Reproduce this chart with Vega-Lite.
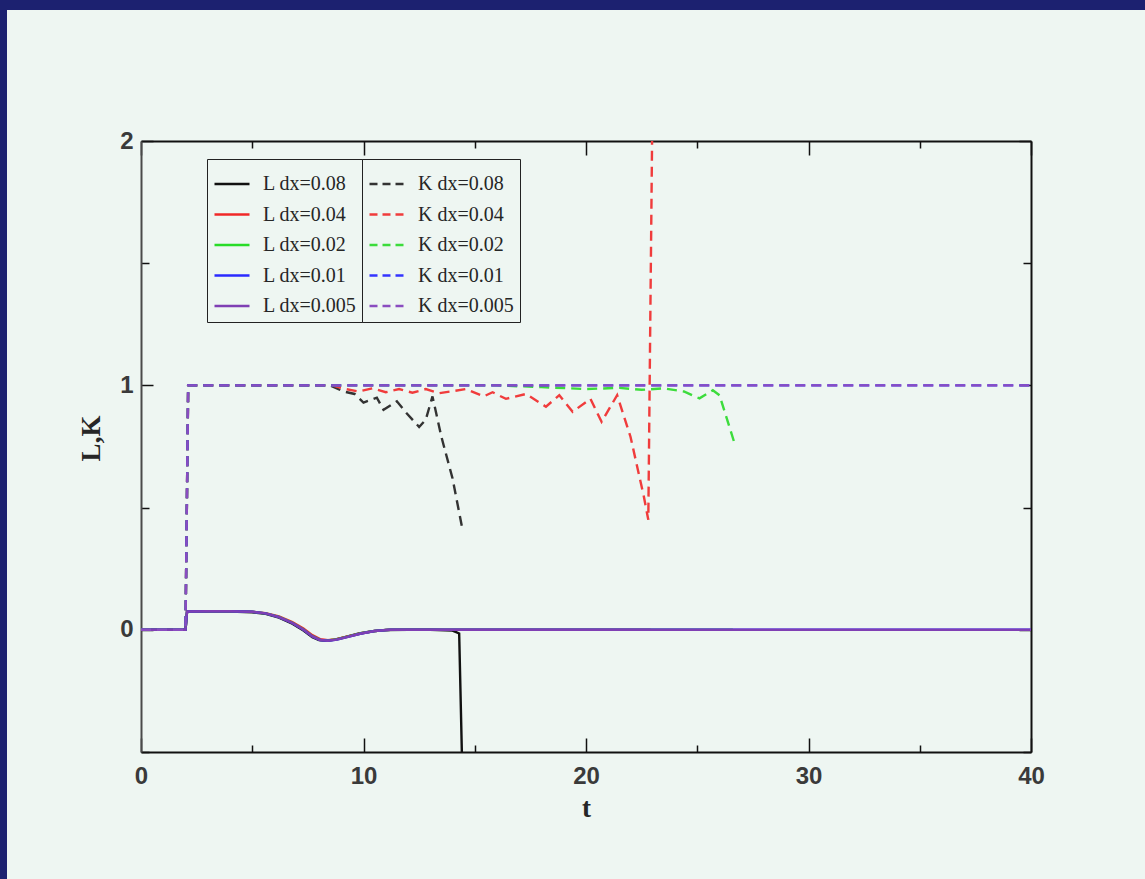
{
  "$schema": "https://vega.github.io/schema/vega-lite/v6.json",
  "width": 1138,
  "height": 869,
  "autosize": "none",
  "padding": {"top": 10, "left": 7, "right": 0, "bottom": 0},
  "background": "#1c2170",
  "config": {
    "view": {"fill": "#eef6f2", "stroke": null},
    "axis": {
      "domainColor": "#111111",
      "domainWidth": 2,
      "tickColor": "#111111",
      "tickWidth": 1.5,
      "grid": false,
      "labelFont": "Liberation Sans",
      "labelFontSize": 24,
      "labelFontWeight": "bold",
      "labelColor": "#3a3a3a",
      "labelFlush": false,
      "labelOverlap": false,
      "labelBound": false,
      "titleFont": "Liberation Serif",
      "titleFontSize": 27,
      "titleFontWeight": "bold",
      "titleColor": "#262626"
    },
    "legend": {
      "orient": "none",
      "title": null,
      "symbolType": "stroke",
      "symbolSize": 1225,
      "symbolStrokeWidth": 2.4,
      "labelFont": "Liberation Serif",
      "labelFontSize": 20,
      "labelColor": "#262626",
      "labelOffset": 12,
      "labelLimit": 300,
      "rowPadding": 1.5,
      "padding": 6,
      "strokeColor": "#222222",
      "fillColor": "#eef6f2"
    }
  },
  "datasets": {
    "L": [
      {"t": 0, "v": 0, "s": "L dx=0.08"},
      {"t": 2.0, "v": 0, "s": "L dx=0.08"},
      {"t": 2.07, "v": 0.074, "s": "L dx=0.08"},
      {"t": 3, "v": 0.075, "s": "L dx=0.08"},
      {"t": 4, "v": 0.075, "s": "L dx=0.08"},
      {"t": 5, "v": 0.072, "s": "L dx=0.08"},
      {"t": 5.6, "v": 0.065, "s": "L dx=0.08"},
      {"t": 6.2, "v": 0.05, "s": "L dx=0.08"},
      {"t": 6.8, "v": 0.025, "s": "L dx=0.08"},
      {"t": 7.3, "v": -0.003, "s": "L dx=0.08"},
      {"t": 7.7, "v": -0.03, "s": "L dx=0.08"},
      {"t": 8.0, "v": -0.042, "s": "L dx=0.08"},
      {"t": 8.3, "v": -0.045, "s": "L dx=0.08"},
      {"t": 8.7, "v": -0.04, "s": "L dx=0.08"},
      {"t": 9.2, "v": -0.029, "s": "L dx=0.08"},
      {"t": 9.8, "v": -0.015, "s": "L dx=0.08"},
      {"t": 10.4, "v": -0.006, "s": "L dx=0.08"},
      {"t": 11, "v": -0.001, "s": "L dx=0.08"},
      {"t": 12, "v": 0, "s": "L dx=0.08"},
      {"t": 13, "v": 0, "s": "L dx=0.08"},
      {"t": 14.0, "v": -0.003, "s": "L dx=0.08"},
      {"t": 14.3, "v": -0.015, "s": "L dx=0.08"},
      {"t": 14.42, "v": -1.0, "s": "L dx=0.08"},

      {"t": 0, "v": 0, "s": "L dx=0.04"},
      {"t": 2.0, "v": 0, "s": "L dx=0.04"},
      {"t": 2.07, "v": 0.075, "s": "L dx=0.04"},
      {"t": 3, "v": 0.076, "s": "L dx=0.04"},
      {"t": 4, "v": 0.076, "s": "L dx=0.04"},
      {"t": 5, "v": 0.074, "s": "L dx=0.04"},
      {"t": 5.6, "v": 0.068, "s": "L dx=0.04"},
      {"t": 6.2, "v": 0.055, "s": "L dx=0.04"},
      {"t": 6.8, "v": 0.032, "s": "L dx=0.04"},
      {"t": 7.3, "v": 0.005, "s": "L dx=0.04"},
      {"t": 7.7, "v": -0.022, "s": "L dx=0.04"},
      {"t": 8.05, "v": -0.038, "s": "L dx=0.04"},
      {"t": 8.4, "v": -0.043, "s": "L dx=0.04"},
      {"t": 8.8, "v": -0.038, "s": "L dx=0.04"},
      {"t": 9.3, "v": -0.027, "s": "L dx=0.04"},
      {"t": 9.9, "v": -0.014, "s": "L dx=0.04"},
      {"t": 10.5, "v": -0.005, "s": "L dx=0.04"},
      {"t": 11.2, "v": 0, "s": "L dx=0.04"},
      {"t": 22.9, "v": 0, "s": "L dx=0.04"},

      {"t": 0, "v": 0, "s": "L dx=0.02"},
      {"t": 2.0, "v": 0, "s": "L dx=0.02"},
      {"t": 2.07, "v": 0.075, "s": "L dx=0.02"},
      {"t": 3, "v": 0.076, "s": "L dx=0.02"},
      {"t": 4, "v": 0.076, "s": "L dx=0.02"},
      {"t": 5, "v": 0.074, "s": "L dx=0.02"},
      {"t": 5.6, "v": 0.067, "s": "L dx=0.02"},
      {"t": 6.2, "v": 0.053, "s": "L dx=0.02"},
      {"t": 6.8, "v": 0.029, "s": "L dx=0.02"},
      {"t": 7.3, "v": 0.001, "s": "L dx=0.02"},
      {"t": 7.7, "v": -0.026, "s": "L dx=0.02"},
      {"t": 8.05, "v": -0.041, "s": "L dx=0.02"},
      {"t": 8.4, "v": -0.044, "s": "L dx=0.02"},
      {"t": 8.8, "v": -0.039, "s": "L dx=0.02"},
      {"t": 9.3, "v": -0.028, "s": "L dx=0.02"},
      {"t": 9.9, "v": -0.014, "s": "L dx=0.02"},
      {"t": 10.5, "v": -0.005, "s": "L dx=0.02"},
      {"t": 11.2, "v": 0, "s": "L dx=0.02"},
      {"t": 26.6, "v": 0, "s": "L dx=0.02"},

      {"t": 0, "v": 0, "s": "L dx=0.01"},
      {"t": 2.0, "v": 0, "s": "L dx=0.01"},
      {"t": 2.07, "v": 0.075, "s": "L dx=0.01"},
      {"t": 3, "v": 0.076, "s": "L dx=0.01"},
      {"t": 4, "v": 0.076, "s": "L dx=0.01"},
      {"t": 5, "v": 0.074, "s": "L dx=0.01"},
      {"t": 5.6, "v": 0.067, "s": "L dx=0.01"},
      {"t": 6.2, "v": 0.052, "s": "L dx=0.01"},
      {"t": 6.8, "v": 0.028, "s": "L dx=0.01"},
      {"t": 7.3, "v": 0.0, "s": "L dx=0.01"},
      {"t": 7.7, "v": -0.027, "s": "L dx=0.01"},
      {"t": 8.05, "v": -0.042, "s": "L dx=0.01"},
      {"t": 8.4, "v": -0.045, "s": "L dx=0.01"},
      {"t": 8.8, "v": -0.04, "s": "L dx=0.01"},
      {"t": 9.3, "v": -0.029, "s": "L dx=0.01"},
      {"t": 9.9, "v": -0.015, "s": "L dx=0.01"},
      {"t": 10.5, "v": -0.005, "s": "L dx=0.01"},
      {"t": 11.2, "v": 0, "s": "L dx=0.01"},
      {"t": 40, "v": 0, "s": "L dx=0.01"},

      {"t": 0, "v": 0, "s": "L dx=0.005"},
      {"t": 2.0, "v": 0, "s": "L dx=0.005"},
      {"t": 2.07, "v": 0.075, "s": "L dx=0.005"},
      {"t": 3, "v": 0.076, "s": "L dx=0.005"},
      {"t": 4, "v": 0.076, "s": "L dx=0.005"},
      {"t": 5, "v": 0.074, "s": "L dx=0.005"},
      {"t": 5.6, "v": 0.067, "s": "L dx=0.005"},
      {"t": 6.2, "v": 0.052, "s": "L dx=0.005"},
      {"t": 6.8, "v": 0.028, "s": "L dx=0.005"},
      {"t": 7.3, "v": 0.0, "s": "L dx=0.005"},
      {"t": 7.7, "v": -0.027, "s": "L dx=0.005"},
      {"t": 8.05, "v": -0.042, "s": "L dx=0.005"},
      {"t": 8.4, "v": -0.045, "s": "L dx=0.005"},
      {"t": 8.8, "v": -0.04, "s": "L dx=0.005"},
      {"t": 9.3, "v": -0.029, "s": "L dx=0.005"},
      {"t": 9.9, "v": -0.015, "s": "L dx=0.005"},
      {"t": 10.5, "v": -0.005, "s": "L dx=0.005"},
      {"t": 11.2, "v": 0, "s": "L dx=0.005"},
      {"t": 40, "v": 0, "s": "L dx=0.005"}
    ],
    "K": [
      {"t": 0, "v": 0, "s": "K dx=0.08"},
      {"t": 2.0, "v": 0, "s": "K dx=0.08"},
      {"t": 2.12, "v": 1.0, "s": "K dx=0.08"},
      {"t": 8.5, "v": 1.0, "s": "K dx=0.08"},
      {"t": 9.1, "v": 0.975, "s": "K dx=0.08"},
      {"t": 9.6, "v": 0.965, "s": "K dx=0.08"},
      {"t": 10.0, "v": 0.93, "s": "K dx=0.08"},
      {"t": 10.6, "v": 0.95, "s": "K dx=0.08"},
      {"t": 10.9, "v": 0.9, "s": "K dx=0.08"},
      {"t": 11.5, "v": 0.935, "s": "K dx=0.08"},
      {"t": 11.9, "v": 0.89, "s": "K dx=0.08"},
      {"t": 12.5, "v": 0.83, "s": "K dx=0.08"},
      {"t": 12.8, "v": 0.86, "s": "K dx=0.08"},
      {"t": 13.1, "v": 0.955, "s": "K dx=0.08"},
      {"t": 13.5, "v": 0.79, "s": "K dx=0.08"},
      {"t": 14.0, "v": 0.62, "s": "K dx=0.08"},
      {"t": 14.45, "v": 0.41, "s": "K dx=0.08"},

      {"t": 0, "v": 0, "s": "K dx=0.04"},
      {"t": 2.0, "v": 0, "s": "K dx=0.04"},
      {"t": 2.12, "v": 1.0, "s": "K dx=0.04"},
      {"t": 8.6, "v": 1.0, "s": "K dx=0.04"},
      {"t": 9.2, "v": 0.985, "s": "K dx=0.04"},
      {"t": 9.8, "v": 0.975, "s": "K dx=0.04"},
      {"t": 10.4, "v": 0.988, "s": "K dx=0.04"},
      {"t": 11.0, "v": 0.972, "s": "K dx=0.04"},
      {"t": 11.6, "v": 0.985, "s": "K dx=0.04"},
      {"t": 12.2, "v": 0.97, "s": "K dx=0.04"},
      {"t": 12.8, "v": 0.985, "s": "K dx=0.04"},
      {"t": 13.4, "v": 0.968, "s": "K dx=0.04"},
      {"t": 13.9, "v": 0.975, "s": "K dx=0.04"},
      {"t": 14.6, "v": 0.985, "s": "K dx=0.04"},
      {"t": 15.4, "v": 0.955, "s": "K dx=0.04"},
      {"t": 15.8, "v": 0.972, "s": "K dx=0.04"},
      {"t": 16.4, "v": 0.945, "s": "K dx=0.04"},
      {"t": 17.3, "v": 0.965, "s": "K dx=0.04"},
      {"t": 18.2, "v": 0.913, "s": "K dx=0.04"},
      {"t": 18.8, "v": 0.96, "s": "K dx=0.04"},
      {"t": 19.4, "v": 0.892, "s": "K dx=0.04"},
      {"t": 20.2, "v": 0.945, "s": "K dx=0.04"},
      {"t": 20.7, "v": 0.851, "s": "K dx=0.04"},
      {"t": 21.4, "v": 0.96, "s": "K dx=0.04"},
      {"t": 22.0, "v": 0.79, "s": "K dx=0.04"},
      {"t": 22.6, "v": 0.545, "s": "K dx=0.04"},
      {"t": 22.8, "v": 0.45, "s": "K dx=0.04"},
      {"t": 22.97, "v": 3.0, "s": "K dx=0.04"},

      {"t": 0, "v": 0, "s": "K dx=0.02"},
      {"t": 2.0, "v": 0, "s": "K dx=0.02"},
      {"t": 2.12, "v": 1.0, "s": "K dx=0.02"},
      {"t": 16, "v": 1.0, "s": "K dx=0.02"},
      {"t": 18, "v": 0.993, "s": "K dx=0.02"},
      {"t": 20, "v": 0.985, "s": "K dx=0.02"},
      {"t": 21.5, "v": 0.99, "s": "K dx=0.02"},
      {"t": 22.5, "v": 0.982, "s": "K dx=0.02"},
      {"t": 23.5, "v": 0.988, "s": "K dx=0.02"},
      {"t": 24.4, "v": 0.975, "s": "K dx=0.02"},
      {"t": 25.1, "v": 0.947, "s": "K dx=0.02"},
      {"t": 25.7, "v": 0.98, "s": "K dx=0.02"},
      {"t": 26.0, "v": 0.96, "s": "K dx=0.02"},
      {"t": 26.7, "v": 0.756, "s": "K dx=0.02"},

      {"t": 0, "v": 0, "s": "K dx=0.01"},
      {"t": 2.0, "v": 0, "s": "K dx=0.01"},
      {"t": 2.12, "v": 1.0, "s": "K dx=0.01"},
      {"t": 40, "v": 1.0, "s": "K dx=0.01"},

      {"t": 0, "v": 0, "s": "K dx=0.005"},
      {"t": 2.0, "v": 0, "s": "K dx=0.005"},
      {"t": 2.12, "v": 1.0, "s": "K dx=0.005"},
      {"t": 40, "v": 1.0, "s": "K dx=0.005"}
    ]
  },
  "layer": [
    {
      "data": {"name": "L"},
      "mark": {"type": "line", "strokeWidth": 2.4},
      "encoding": {
        "x": {
          "field": "t",
          "type": "quantitative",
          "scale": {"domain": [0, 40], "range": [134, 1024], "nice": false, "zero": false},
          "axis": {
            "orient": "bottom",
            "offset": -127,
            "values": [0, 5, 10, 15, 20, 25, 30, 35, 40],
            "labelExpr": "datum.value % 10 === 0 ? datum.label : ''",
            "tickSize": {"condition": {"test": "datum.value % 10 === 0", "value": -14}, "value": -7},
            "labelPadding": 26,
            "title": "t",
            "titlePadding": 0
          }
        },
        "y": {
          "field": "v",
          "type": "quantitative",
          "scale": {"domain": [-0.5, 2], "range": [742, 131], "clamp": true, "nice": false, "zero": false},
          "axis": {
            "orient": "left",
            "offset": -134,
            "values": [-0.5, 0, 0.5, 1, 1.5, 2],
            "labelExpr": "datum.value % 1 === 0 ? format(datum.value, 'd') : ''",
            "tickSize": {"condition": {"test": "datum.value % 1 === 0", "value": -12}, "value": -8},
            "labelPadding": 20,
            "domainColor": "#4a4a4a",
            "title": "L,K",
            "titleAngle": -90,
            "titleX": -42,
            "titleY": 428,
            "titleAlign": "center",
            "titleBaseline": "alphabetic"
          }
        },
        "color": {
          "field": "s",
          "type": "nominal",
          "scale": {
            "domain": ["L dx=0.08", "L dx=0.04", "L dx=0.02", "L dx=0.01", "L dx=0.005"],
            "range": ["#111111", "#f02828", "#28dc28", "#2a2aff", "#7f3fb4"]
          },
          "legend": {"legendX": 200, "legendY": 149}
        }
      }
    },
    {
      "data": {"name": "K"},
      "mark": {"type": "line", "strokeWidth": 2.4, "strokeDash": [10, 6]},
      "encoding": {
        "x": {
          "field": "t",
          "type": "quantitative",
          "scale": {"domain": [0, 40], "range": [134, 1024], "nice": false, "zero": false},
          "axis": {
            "orient": "top",
            "offset": -131,
            "values": [0, 5, 10, 15, 20, 25, 30, 35, 40],
            "labels": false,
            "tickSize": {"condition": {"test": "datum.value % 10 === 0", "value": -14}, "value": -7},
            "title": null
          }
        },
        "y": {
          "field": "v",
          "type": "quantitative",
          "scale": {"domain": [-0.5, 2], "range": [742, 131], "clamp": true, "nice": false, "zero": false},
          "axis": {
            "orient": "right",
            "offset": -114,
            "values": [-0.5, 0, 0.5, 1, 1.5, 2],
            "labels": false,
            "tickSize": {"condition": {"test": "datum.value % 1 === 0", "value": -12}, "value": -8},
            "title": null
          }
        },
        "stroke": {
          "field": "s",
          "type": "nominal",
          "scale": {
            "domain": ["K dx=0.08", "K dx=0.04", "K dx=0.02", "K dx=0.01", "K dx=0.005"],
            "range": ["#333333", "#f03c3c", "#3cdc3c", "#3434ff", "#8a4cc0"]
          },
          "legend": {"legendX": 355, "legendY": 149, "symbolDash": [8, 5]}
        }
      }
    }
  ]
}
